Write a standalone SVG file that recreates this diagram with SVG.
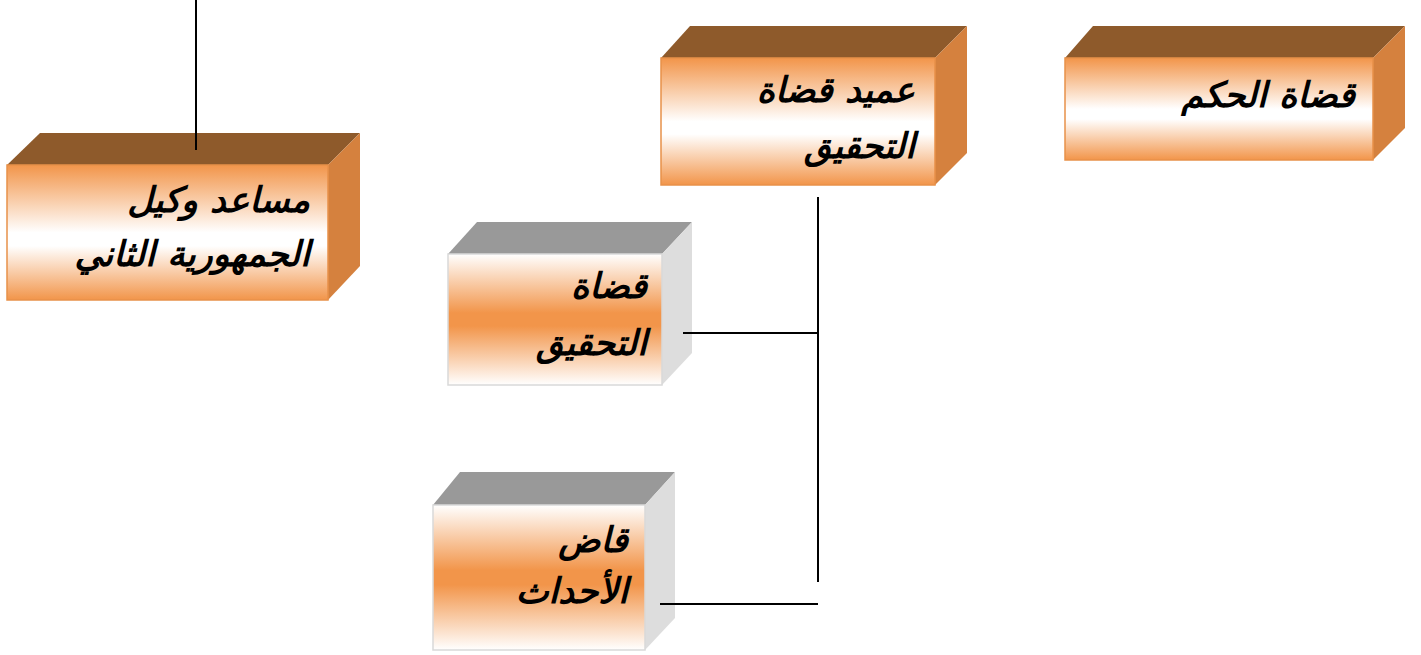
<svg xmlns="http://www.w3.org/2000/svg" width="1421" height="655" viewBox="0 0 1421 655">
<defs>
<linearGradient id="gOrange" x1="0" y1="0" x2="0" y2="1">
<stop offset="0" stop-color="#F2954A"/>
<stop offset="0.5" stop-color="#FFFFFF"/>
<stop offset="0.6" stop-color="#FFFFFF"/>
<stop offset="1" stop-color="#F2954A"/>
</linearGradient>
<linearGradient id="gMid" x1="0" y1="0" x2="0" y2="1">
<stop offset="0" stop-color="#FFFFFF"/>
<stop offset="0.45" stop-color="#F2954A"/>
<stop offset="0.55" stop-color="#F2954A"/>
<stop offset="1" stop-color="#FFFFFF"/>
</linearGradient>
<style>
.fo{fill:url(#gOrange);stroke:#E8914A;stroke-width:1.5}
.fg{fill:url(#gMid);stroke:#D9D9D9;stroke-width:1.5}
.tb{fill:#8E5A2B}
.sb{fill:#D5813E}
.tg{fill:#999999}
.sg{fill:#DDDDDD}
.lbl{font-family:"DejaVu Sans",sans-serif;font-weight:bold;font-style:italic;font-size:35px;fill:#000;text-anchor:end}
.ln{stroke:#000;stroke-width:2;fill:none}
</style>
</defs>
<g id="node-musaed">
<polygon class="tb" points="7,165 40,133 360,133 328,165"/>
<polygon class="sb" points="328,165 360,133 360,266 328,300"/>
<rect class="fo" x="7" y="165" width="321" height="135"/>
<text class="lbl" x="310" y="212">مساعد وكيل</text>
<text class="lbl" x="310" y="266">الجمهورية الثاني</text>
</g>
<g id="node-amid">
<polygon class="tb" points="661,58 690,26 967,26 935,58"/>
<polygon class="sb" points="935,58 967,26 967,153 935,185"/>
<rect class="fo" x="661" y="58" width="274" height="127"/>
<text class="lbl" x="915" y="102">عميد قضاة</text>
<text class="lbl" x="915" y="158">التحقيق</text>
</g>
<g id="node-hukm">
<polygon class="tb" points="1065,58 1093,26 1405,26 1373,58"/>
<polygon class="sb" points="1373,58 1405,26 1405,128 1373,160"/>
<rect class="fo" x="1065" y="58" width="308" height="102"/>
<text class="lbl" x="1355" y="107">قضاة الحكم</text>
</g>
<g id="node-tahqiq">
<polygon class="tg" points="448,254 477,222 692,222 662,254"/>
<polygon class="sg" points="662,254 692,222 692,353 662,385"/>
<rect class="fg" x="448" y="254" width="214" height="131"/>
<text class="lbl" x="647" y="298">قضاة</text>
<text class="lbl" x="647" y="355">التحقيق</text>
</g>
<g id="node-ahdath">
<polygon class="tg" points="433,505 460,472 675,472 645,505"/>
<polygon class="sg" points="645,505 675,472 675,618 645,650"/>
<rect class="fg" x="433" y="505" width="212" height="145"/>
<text class="lbl" x="628" y="552">قاض</text>
<text class="lbl" x="628" y="603">الأحداث</text>
</g>
<g id="connectors">
<line class="ln" x1="196" y1="0" x2="196" y2="150"/>
<line class="ln" x1="818" y1="197" x2="818" y2="582"/>
<line class="ln" x1="683" y1="333" x2="818" y2="333"/>
<line class="ln" x1="660" y1="604" x2="818" y2="604"/>
</g>
</svg>
